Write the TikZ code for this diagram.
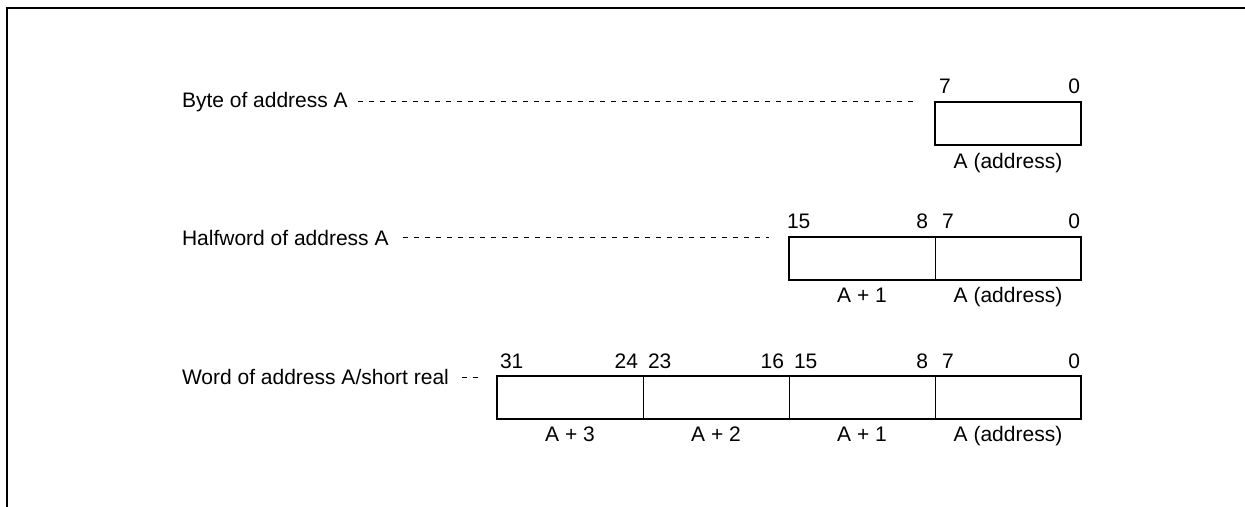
\documentclass[tikz,border=0pt]{standalone}
\usepackage{fontspec}
\setmainfont{Liberation Sans}
\usetikzlibrary{calc}
\begin{document}
\begin{tikzpicture}[x=0.5pt,y=-0.5pt,
  every node/.style={font=\fontsize{10.5pt}{12.5pt}\selectfont, inner sep=0pt, outer sep=0pt},
  cell/.style={draw, line width=0.5pt, minimum width=73pt, minimum height=21.5pt},
  outline/.style={line width=1.1pt},
  frame/.style={line width=1pt},
  leader/.style={dash pattern=on 2.75pt off 2.75pt, line width=0.5pt},
  bitl/.style={anchor=base west},
  bitr/.style={anchor=base east},
  under/.style={anchor=base},
  rowlabel/.style={anchor=west}]
\useasboundingbox (0,0) rectangle (1245,507);
% frame
\draw[frame] (7,507) -- (7,8) -- (1245,8);

% ---- byte ----
\node[cell] (b0) at (1008,123.5) {};
\draw[outline] (b0.north west) rectangle (b0.south east);
\node[bitl] (b0l) at ($(b0.north west)+(4,-8)$) {7};
\node[bitr] (b0r) at ($(b0.north east)+(-1,-8)$) {0};
\node[under] (b0u) at ($(b0.south)+(0,24)$) {A (address)};
\node[rowlabel] (lb) at (182,102) {Byte of address A};
\draw[leader, shorten <=5pt, shorten >=9pt] (lb.east) -- (lb.east -| b0.west);

% ---- halfword ----
\node[cell] (h1) at (862,258.5) {};
\node[cell] (h0) at (1008,258.5) {};
\draw[outline] (h1.north west) rectangle (h0.south east);
\node[bitl] (h1l) at ($(h1.north west)+(-2,-8)$) {15};
\node[bitr] (h1r) at ($(h1.north east)+(-7,-8)$) {8};
\node[bitl] (h0l) at ($(h0.north west)+(7,-8)$) {7};
\node[bitr] (h0r) at ($(h0.north east)+(-1,-8)$) {0};
\node[under] (h1u) at ($(h1.south)+(0,22)$) {A + 1};
\node[under] (h0u) at ($(h0.south)+(0,22)$) {A (address)};
\node[rowlabel] (lh) at (182,238) {Halfword of address A};
\draw[leader, shorten <=7pt, shorten >=10pt] (lh.east) -- (lh.east -| h1.west);

% ---- word ----
\node[cell] (w3) at (570,397.5) {};
\node[cell] (w2) at (716,397.5) {};
\node[cell] (w1) at (862,397.5) {};
\node[cell] (w0) at (1008,397.5) {};
\draw[outline] (w3.north west) rectangle (w0.south east);
\node[bitl] (w3l) at ($(w3.north west)+(3,-8)$) {31};
\node[bitr] (w3r) at ($(w3.north east)+(-5,-8)$) {24};
\node[bitl] (w2l) at ($(w2.north west)+(5,-8)$) {23};
\node[bitr] (w2r) at ($(w2.north east)+(-5,-8)$) {16};
\node[bitl] (w1l) at ($(w1.north west)+(5,-8)$) {15};
\node[bitr] (w1r) at ($(w1.north east)+(-7,-8)$) {8};
\node[bitl] (w0l) at ($(w0.north west)+(7,-8)$) {7};
\node[bitr] (w0r) at ($(w0.north east)+(-1,-8)$) {0};
\node[under] (w3u) at ($(w3.south)+(0,22)$) {A + 3};
\node[under] (w2u) at ($(w2.south)+(0,22)$) {A + 2};
\node[under] (w1u) at ($(w1.south)+(0,22)$) {A + 1};
\node[under] (w0u) at ($(w0.south)+(0,22)$) {A (address)};
\node[rowlabel] (lw) at (182,377) {Word of address A/short real};
\draw[leader, shorten <=6.5pt, shorten >=7.5pt] (lw.east) -- (lw.east -| w3.west);
\end{tikzpicture}
\end{document}
